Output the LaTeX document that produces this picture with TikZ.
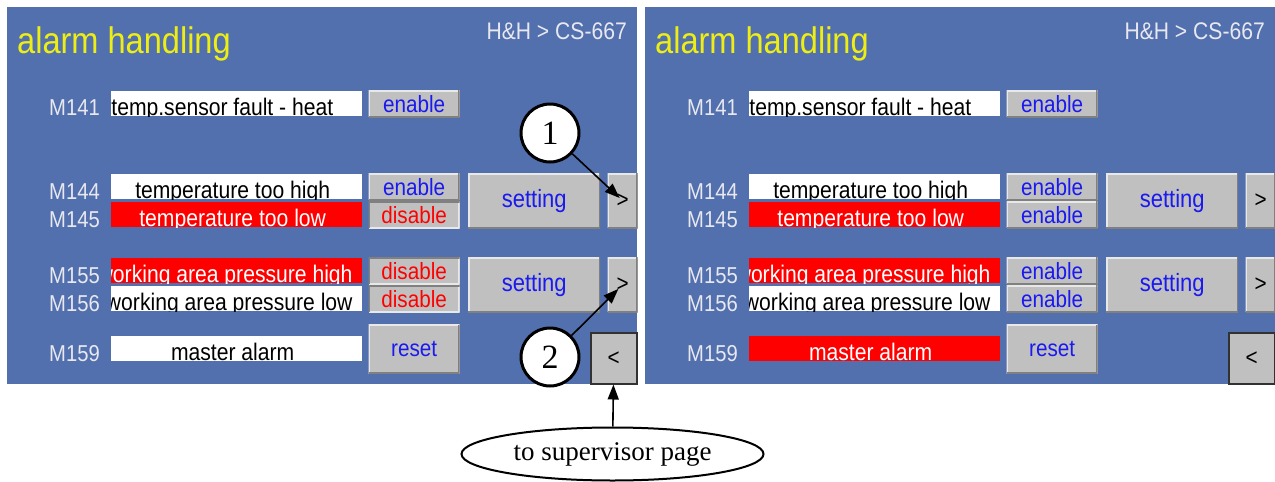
\documentclass[tikz,border=0pt]{standalone}
\usepackage{fontspec}
\setmainfont{Liberation Serif}
\newfontfamily\hmifont[FakeStretch=0.88]{Liberation Sans}
\usetikzlibrary{arrows.meta, positioning, shapes.geometric}
\definecolor{hmiblue}{RGB}{82,112,174}
\definecolor{hmiyellow}{RGB}{238,238,20}
\definecolor{hmilight}{RGB}{232,232,240}
\definecolor{hmired}{RGB}{255,0,0}
\definecolor{hmitext}{RGB}{25,25,240}
\definecolor{btngray}{RGB}{192,192,192}
\definecolor{btnlight}{RGB}{232,232,232}
\definecolor{btnshade}{RGB}{128,128,128}
\definecolor{btnborder}{RGB}{50,50,50}
\tikzset{%
    panel/.style = {fill=hmiblue},
    pagetitle/.style = {anchor=base west, inner sep=0pt, text=hmiyellow,
        font=\hmifont\fontsize{37}{40}\selectfont},
    pagehead/.style = {anchor=base east, inner sep=0pt, text=hmilight,
        font=\hmifont\fontsize{24}{26}\selectfont},
    mlabel/.style = {anchor=base west, inner sep=0pt, text=hmilight,
        font=\hmifont\fontsize{23}{25}\selectfont},
    field/.style = {rectangle, anchor=north west, inner sep=0pt,
        minimum width=251pt, minimum height=25pt},
    fieldtext/.style = {inner sep=0pt, minimum width=0pt, minimum height=0pt,
        font=\hmifont\fontsize{24}{26}\selectfont, yshift=1pt},
    ltext/.style = {fieldtext, anchor=base west, xshift=-125.5pt},
    ctext/.style = {fieldtext, anchor=base, xshift=-4pt},
    rtext/.style = {fieldtext, anchor=base east, xshift=116pt},
    fieldbox/.style n args = {4}{field, fill=#1,
        path picture={\node[#4, text=#2] at (path picture bounding box.south) {#3};}},
    fieldwhite/.style = {fieldbox={white}{black}{#1}{ctext}},
    fieldred/.style = {fieldbox={hmired}{white}{#1}{ctext}},
    button/.style = {rectangle, inner sep=0pt, minimum width=91pt,
        minimum height=27pt, font=\hmifont\fontsize{23.5}{25}\selectfont},
    raised/.style = {fill=btngray, path picture={
        \draw[btnlight, line width=3pt] (path picture bounding box.south west)
            |- (path picture bounding box.north east);
        \draw[btnshade, line width=3pt] (path picture bounding box.south west)
            -| (path picture bounding box.north east);}},
    sunken/.style = {fill=btngray, path picture={
        \draw[btnlight, line width=3pt] (path picture bounding box.south west)
            -| (path picture bounding box.north east);
        \draw[btnshade, line width=3pt] (path picture bounding box.south west)
            |- (path picture bounding box.north east);}},
    btnenable/.style = {button, raised, text=hmitext},
    btndisable/.style = {button, sunken, text=hmired},
    setbtn/.style = {button, raised, anchor=north west, minimum width=132pt,
        minimum height=55pt, text=hmitext,
        font=\hmifont\fontsize{25}{27}\selectfont},
    nextbtn/.style = {button, raised, minimum width=30pt, minimum height=55pt,
        text=black},
    backbtn/.style = {button, anchor=north west, fill=btngray, draw=btnborder,
        line width=1.5pt, minimum width=46pt, minimum height=51pt, text=black},
    marker/.style = {circle, draw=black, fill=white, line width=3pt,
        minimum size=58pt, inner sep=0pt, font=\fontsize{34}{36}\selectfont},
    pointer/.style = {draw=black, line width=1.6pt,
        -{Triangle[length=15pt, width=11pt]}},
    callout/.style = {ellipse, draw=black, fill=white, line width=2pt,
        minimum width=302pt, minimum height=53pt, inner sep=0pt,
        font=\fontsize{27}{29}\selectfont},
}
% one alarm page: prefix, shift, states of M145/M155/M156, master alarm field
\newcommand{\alarmpage}[6]{%
  \begin{scope}[xshift=#2]
    \fill[panel] (7,7) rectangle (637,384);
    \node[pagetitle] (#1title) at (17,53) {alarm handling};
    \node[pagehead] (#1head) at (627,39.5) {H\&H > CS-667};
    % heater sensor
    \node[mlabel] (#1m141) at (49,115) {M141};
    \node[fieldbox={white}{black}{temp.sensor fault - heat}{ltext}] (#1f141) at (111,91) {};
    \node[btnenable, right=6pt of #1f141] (#1b141) {enable};
    % temperature
    \node[mlabel] (#1m144) at (49,199) {M144};
    \node[fieldwhite={temperature too high}] (#1f144) at (111,174) {};
    \node[btnenable, right=6pt of #1f144] (#1b144) {enable};
    \node[mlabel] (#1m145) at (49,227) {M145};
    \node[fieldred={temperature too low}] (#1f145) at (111,202) {};
    \node[btn#3, right=6pt of #1f145] (#1b145) {#3};
    \node[setbtn] (#1set1) at (468,173) {setting};
    \node[nextbtn, right=7pt of #1set1] (#1gt1) {>};
    % pressure
    \node[mlabel] (#1m155) at (49,283) {M155};
    \node[fieldbox={hmired}{white}{working area pressure high}{rtext}] (#1f155) at (111,258) {};
    \node[btn#4, right=6pt of #1f155] (#1b155) {#4};
    \node[mlabel] (#1m156) at (49,311) {M156};
    \node[fieldbox={white}{black}{working area pressure low}{rtext}] (#1f156) at (111,286) {};
    \node[btn#5, right=6pt of #1f156] (#1b156) {#5};
    \node[setbtn] (#1set2) at (468,257) {setting};
    \node[nextbtn, right=7pt of #1set2] (#1gt2) {>};
    % master alarm
    \node[mlabel] (#1m159) at (49,361) {M159};
    \node[#6={master alarm}] (#1f159) at (111,336) {};
    \node[button, raised, minimum height=49pt, text=hmitext,
        below=12pt of #1b156] (#1reset) {reset};
    \node[backbtn] (#1back) at (590,332) {<};
  \end{scope}}

\begin{document}
\begin{tikzpicture}[x=1pt, y=-1pt]
    \useasboundingbox (0,0) rectangle (1275,482);
    \alarmpage{p}{0pt}{disable}{disable}{disable}{fieldwhite}
    \alarmpage{q}{638pt}{enable}{enable}{enable}{fieldred}
    % callouts
    \node[marker] (one) at (550,133) {1};
    \node[marker] (two) at (550,357) {2};
    \node[callout] (sup) at (612.5,454) {to supervisor page};
    \draw[pointer, shorten >=4pt] (one) -- (pgt1.center);
    \draw[pointer, shorten >=6pt] (two) -- (pgt2.center);
    \draw[pointer] (sup) -- (pback);
\end{tikzpicture}
\end{document}
